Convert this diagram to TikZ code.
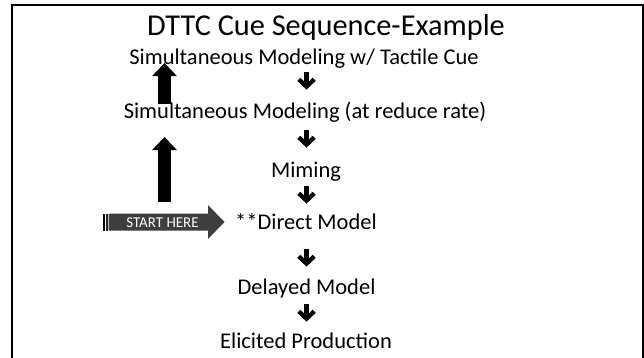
\documentclass[tikz,border=0pt]{standalone}
\usepackage{fontspec}
\setmainfont{Carlito}
\usetikzlibrary{arrows.meta}
\definecolor{startgray}{RGB}{62,62,62}
\begin{document}
\begin{tikzpicture}[x=1pt,y=-1pt,
  lbl/.style={font=\fontsize{22.5}{26}\selectfont, anchor=base, inner sep=0pt},
  ttl/.style={font=\fontsize{30.3}{34}\selectfont, anchor=base, inner sep=0pt},
  uparr/.style={line width=13pt, -{Triangle[length=13pt,width=24pt]}},
  darr/.pic={\fill (-2.4,0) -- (2.4,0) -- (2.4,9.5) -- (6.1,5.8) -- (9.2,8.9) -- (0,17.6) -- (-9.2,8.9) -- (-6.1,5.8) -- (-2.4,9.5) -- cycle;}
]
\useasboundingbox (0,0) rectangle (644,357);
% frame
\draw[line width=2pt] (11.5,360) -- (11.5,4.5) -- (642.5,4.5) -- (642.5,360);

% texts
\node[ttl] (title) at (326,35) {DTTC Cue Sequence-Example};
\node[lbl] (s1) at (304,64) {Simultaneous Modeling w/ Tactile Cue};
\node[lbl] (s2) at (305,118.5) {Simultaneous Modeling (at reduce rate)};
\node[lbl] (mim) at (306,177.5) {Miming};
\node[lbl] (dm) at (306,229) {**Direct Model};
\node[lbl] (del) at (306.5,294.5) {Delayed Model};
\node[lbl] (eli) at (306,348) {Elicited Production};

% down arrows
\coordinate (d1) at (306.5,72);
\coordinate (d2) at (306.5,130);
\coordinate (d3) at (306.5,186);
\coordinate (d4) at (306.5,249);
\coordinate (d5) at (306.5,304);
\foreach \c in {d1,d2,d3,d4,d5} \pic at (\c) {darr};

% up arrows
\coordinate (u1b) at (164.5,104);
\coordinate (u1t) at (164.5,63);
\coordinate (u2b) at (164.5,202);
\coordinate (u2t) at (164.5,137);
\draw[uparr] (u1b) -- (u1t);
\draw[uparr] (u2b) -- (u2t);

% start here arrow
\fill[black] (103,213.5) rectangle (104.6,230.5);
\fill[black!85] (105.6,213.5) rectangle (107.6,230.5);
\fill[startgray] (108.6,213.5) -- (208,213.5) -- (208,205) -- (224.5,222) -- (208,239) -- (208,230.5) -- (108.6,230.5) -- cycle;
\node[font=\fontsize{15}{17}\selectfont, text=white, inner sep=0pt, anchor=base] (start) at (162.5,227.2) {START HERE};
\end{tikzpicture}
\end{document}
